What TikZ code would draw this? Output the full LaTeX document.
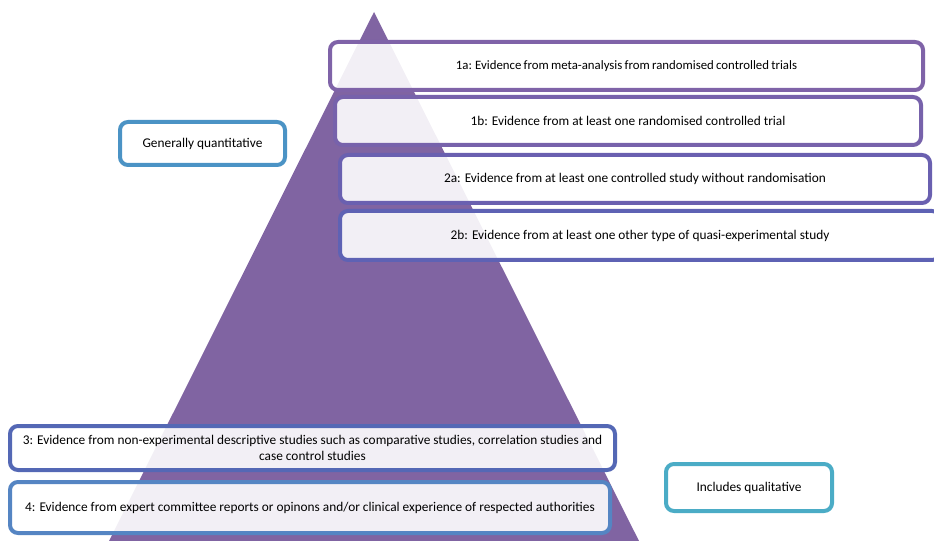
\documentclass[tikz,border=0pt]{standalone}
\usepackage{fontspec}
\setmainfont{Carlito}
\usetikzlibrary{positioning}

\definecolor{pyramid}{HTML}{8064A2}
\definecolor{edgeA}{HTML}{7F63A8}
\definecolor{edgeB}{HTML}{7762AB}
\definecolor{edgeC}{HTML}{6A60B0}
\definecolor{edgeD}{HTML}{5E62B4}
\definecolor{edgeE}{HTML}{5468B5}
\definecolor{edgeF}{HTML}{5585C3}
\definecolor{edgeQ}{HTML}{4B93C5}
\definecolor{edgeL}{HTML}{4BACC6}

\begin{document}
\begin{tikzpicture}[x=0.75pt,y=-0.75pt,
    evbox/.style={draw,line width=3pt,rounded corners=6pt,fill=white,
      fill opacity=0.9,text opacity=1,inner sep=0pt,align=center,
      font=\fontsize{10}{11.5}\selectfont}]
  % Configurable parameters
  \def\apexx{374}
  \def\apexy{12}
  \def\halfbase{265}
  %
  % Canvas
  \clip (0,0) rectangle (934,541);
  %
  % Pyramid
  \fill[pyramid] (\apexx,\apexy) -- (\apexx+\halfbase,541)
    -- (\apexx-\halfbase,541) -- cycle;
  %
  % Levels of evidence
  \node[evbox,draw=edgeA,minimum width=444.75pt,minimum height=36pt,
    font=\fontsize{9.6}{11.5}\selectfont]
    (ev1a) at (626.5,66)
    {\spaceskip=1.7pt\relax 1a: Evidence from meta-analysis from randomised controlled trials};
  \node[evbox,draw=edgeB,minimum width=439.5pt,minimum height=36pt]
    (ev1b) at (628,121)
    {1b: Evidence from at least one randomised controlled trial};
  \node[evbox,draw=edgeC,minimum width=442.5pt,minimum height=36pt]
    (ev2a) at (635,179)
    {2a: Evidence from at least one controlled study without randomisation};
  \node[evbox,draw=edgeD,minimum width=450pt,minimum height=36.75pt]
    (ev2b) at (640,235.5)
    {2b: Evidence from at least one other type of quasi-experimental study};
  \node[evbox,draw=edgeE,minimum width=453.75pt,minimum height=33pt]
    (ev3) at (312.5,448)
    {3: Evidence from non-experimental descriptive studies such as comparative studies, correlation studies and\\
     case control studies};
  \node[evbox,draw=edgeF,minimum width=450pt,minimum height=38.25pt]
    (ev4) at (310,507.5)
    {4: Evidence from expert committee reports or opinons and/or clinical experience of respected authorities};
  %
  % Side labels
  \node[evbox,draw=edgeQ,minimum width=123.75pt,minimum height=32.25pt]
    (quant) at (202.5,143.5) {Generally quantitative};
  \node[evbox,draw=edgeL,minimum width=124.5pt,minimum height=35.25pt]
    (qual) at (749,487.5) {Includes qualitative};
  %
\end{tikzpicture}
\end{document}
